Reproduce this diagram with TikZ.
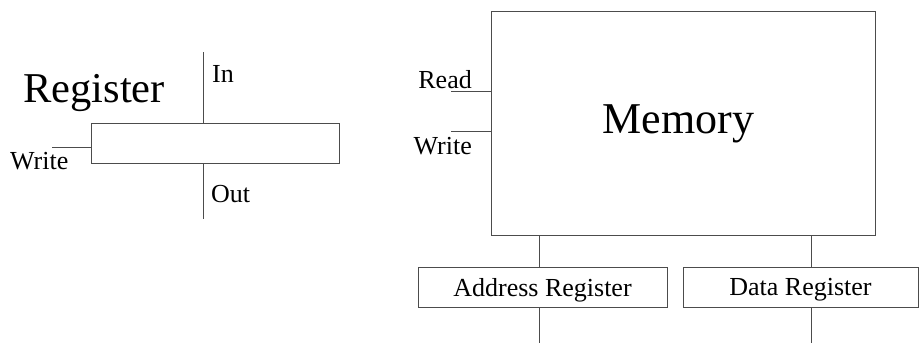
\documentclass[tikz,border=0pt]{standalone}
\usepackage{fontspec}
\setmainfont{Liberation Serif}
\usetikzlibrary{positioning}

\tikzset{
  unit/.style={draw=black!70,line width=1pt,rectangle,inner sep=0pt,text depth=0pt,font=\fontsize{26}{30}\selectfont},
  wire/.style={draw=black!70,line width=1pt},
  lbl/.style={inner sep=0pt,font=\fontsize{26}{30}\selectfont},
}

\begin{document}
\begin{tikzpicture}[line cap=butt,line join=miter,x=1pt,y=-1pt]
	\useasboundingbox (0,0) rectangle (919,343);
	% single register on the left
	\node[unit,minimum width=248pt,minimum height=40pt] (reg) at (215,143) {};
	\node[lbl,anchor=base west,font=\fontsize{42.5}{48}\selectfont] (regname) at (23,102) {Register};
	\coordinate (regin) at (203,52);
	\coordinate (regout) at (203,219);
	\coordinate (regwr) at (52,147);
	\draw[wire] (regin) -- (regin |- reg.north);
	\draw[wire] (reg.south -| regout) -- (regout);
	\draw[wire] (regwr) -- (regwr -| reg.west);
	\node[lbl,anchor=base west] (inlbl) at (212,82) {In};
	\node[lbl,anchor=base west] (outlbl) at (211,202) {Out};
	\node[lbl,anchor=base west] (wrlbl) at (10,169) {Write};
	% memory with its two registers
	\node[unit,minimum width=384pt,minimum height=224pt] (mem) at (683,123) {};
	\node[lbl,anchor=base,font=\fontsize{44}{50}\selectfont] (memname) at (678.5,133) {Memory};
	\coordinate (memrd) at (451,91);
	\coordinate (memwr) at (451,131);
	\draw[wire] (memrd) -- (memrd -| mem.west);
	\draw[wire] (memwr) -- (memwr -| mem.west);
	\node[lbl,anchor=base east] (rdlbl) at (472,88) {Read};
	\node[lbl,anchor=base east] (mwrlbl) at (472,154) {Write};
	\node[unit,minimum width=249pt,minimum height=40pt] (addr) at (542.5,287) {Address Register};
	\node[unit,minimum width=235pt,minimum height=40pt] (data) at (800.5,287) {Data Register};
	\coordinate (addrout) at (539,343);
	\coordinate (dataout) at (811,343);
	\draw[wire] (mem.south -| addrout) -- (addr.north -| addrout);
	\draw[wire] (addr.south -| addrout) -- (addrout);
	\draw[wire] (mem.south -| dataout) -- (data.north -| dataout);
	\draw[wire] (data.south -| dataout) -- (dataout);
\end{tikzpicture}
\end{document}
